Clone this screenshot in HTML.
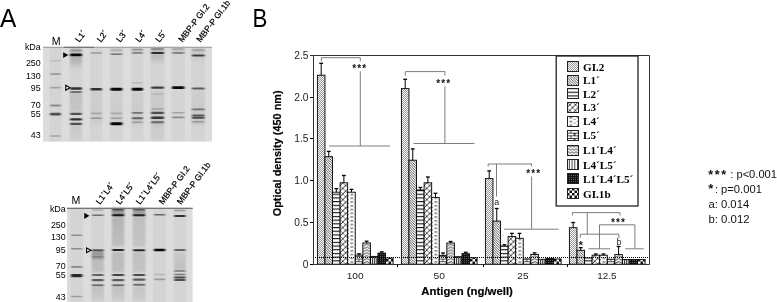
<!DOCTYPE html><html><head><meta charset="utf-8"><style>html,body{margin:0;padding:0;background:#fff;}svg{display:block;filter:blur(0.3px);} text{opacity:0.999}</style></head><body>
<svg width="777" height="302" viewBox="0 0 777 302">

<defs>
<filter id="blur" x="-20%" y="-50%" width="140%" height="200%"><feGaussianBlur stdDeviation="0.9 0.7"/></filter>
<filter id="blur2" x="-20%" y="-50%" width="140%" height="200%"><feGaussianBlur stdDeviation="0.8 1.2"/></filter>
<pattern id="pGL2" patternUnits="userSpaceOnUse" width="2" height="2">
 <rect width="2" height="2" fill="#fafafa"/>
 <rect x="0" y="0" width="1" height="1" fill="#999"/>
 <rect x="1" y="1" width="1" height="1" fill="#999"/>
</pattern>
<pattern id="pL1" patternUnits="userSpaceOnUse" width="2.5" height="2.5">
 <rect width="2.5" height="2.5" fill="#fff"/>
 <path d="M-1,-1L3.5,3.5M-1,1.5L1,3.5M1.5,-1L3.5,1" stroke="#222" stroke-width="0.75"/>
</pattern>
<pattern id="pL2" patternUnits="userSpaceOnUse" width="4" height="3.7">
 <rect width="4" height="3.7" fill="#fff"/>
 <rect y="0" width="4" height="1.1" fill="#111"/>
</pattern>
<pattern id="pL3" patternUnits="userSpaceOnUse" width="5.6" height="5.6">
 <rect width="5.6" height="5.6" fill="#fff"/>
 <path d="M0,0L5.6,5.6M-2.8,2.8L2.8,8.4M2.8,-2.8L8.4,2.8" stroke="#444" stroke-width="0.7"/>
 <path d="M0,5.6L5.6,0M-2.8,2.8L2.8,-2.8M2.8,8.4L8.4,2.8" stroke="#111" stroke-width="0.9"/>
</pattern>
<pattern id="pL4" patternUnits="userSpaceOnUse" width="7.57" height="3.75">
 <rect width="7.57" height="3.75" fill="#fff"/>
 <rect x="2.4" y="1.3" width="2.8" height="1.0" fill="#333"/>
 <rect x="0" y="3.0" width="1" height="0.75" fill="#555"/>
 <rect x="6.57" y="3.0" width="1" height="0.75" fill="#555"/>
</pattern>
<pattern id="pL5" patternUnits="userSpaceOnUse" width="7.57" height="5.4">
 <rect width="7.57" height="5.4" fill="#fff"/>
 <rect y="0" width="7.57" height="0.8" fill="#222"/>
 <rect y="2.7" width="7.57" height="0.8" fill="#222"/>
 <rect x="3.4" y="0" width="0.8" height="2.7" fill="#222"/>
 <rect x="0" y="2.7" width="0.8" height="2.7" fill="#222"/>
 <rect x="6.8" y="2.7" width="0.8" height="2.7" fill="#222"/>
</pattern>
<pattern id="pL14" patternUnits="userSpaceOnUse" width="7.57" height="2.9">
 <rect width="7.57" height="2.9" fill="#fff"/>
 <path d="M0,2.3L3.78,0.5L7.57,2.3" stroke="#222" stroke-width="0.85" fill="none"/>
</pattern>
<pattern id="pL45" patternUnits="userSpaceOnUse" width="1.9" height="4">
 <rect width="1.9" height="4" fill="#fff"/>
 <rect x="0" width="0.95" height="4" fill="#222"/>
</pattern>
<pattern id="pL45L" patternUnits="userSpaceOnUse" width="2.75" height="4">
 <rect width="2.75" height="4" fill="#fff"/>
 <rect x="1.9" width="1.3" height="4" fill="#222"/>
</pattern>
<pattern id="pL14L" patternUnits="userSpaceOnUse" width="3.6" height="3">
 <rect width="3.6" height="3" fill="#fff"/>
 <path d="M0,2.4L1.8,0.6L3.6,2.4" stroke="#222" stroke-width="0.8" fill="none"/>
</pattern>
<pattern id="pL145" patternUnits="userSpaceOnUse" width="2" height="2">
 <rect width="2" height="2" fill="#111"/>
 <rect x="0" y="0" width="1" height="1" fill="#5a5a5a"/>
</pattern>
<pattern id="pGL1b" patternUnits="userSpaceOnUse" width="5" height="5">
 <rect width="5" height="5" fill="#fff"/>
 <rect width="2.5" height="2.5" fill="#111"/>
 <rect x="2.5" y="2.5" width="2.5" height="2.5" fill="#111"/>
</pattern>
</defs>

<rect width="777" height="302" fill="#fff"/>
<text transform="translate(0.1,26.5) scale(0.96,1)" x="0" y="0" font-family="Liberation Sans" font-size="25.5">A</text>
<text transform="translate(252.6,26.5) scale(0.875,1)" x="0" y="0" font-family="Liberation Sans" font-size="25.5">B</text>
<rect x="43" y="46.8" width="169" height="94.8" fill="#dcdcdc"/>
<rect x="49.5" y="46.8" width="12" height="94.8" fill="#000" fill-opacity="0.035"/>
<rect x="69.5" y="46.8" width="13" height="94.8" fill="#000" fill-opacity="0.035"/>
<rect x="90.0" y="46.8" width="12.5" height="94.8" fill="#000" fill-opacity="0.035"/>
<rect x="110.0" y="46.8" width="12.900000000000006" height="94.8" fill="#000" fill-opacity="0.035"/>
<rect x="131.3" y="46.8" width="12.199999999999989" height="94.8" fill="#000" fill-opacity="0.035"/>
<rect x="150.5" y="46.8" width="14" height="94.8" fill="#000" fill-opacity="0.035"/>
<rect x="171.5" y="46.8" width="13.400000000000006" height="94.8" fill="#000" fill-opacity="0.035"/>
<rect x="191.3" y="46.8" width="13.899999999999977" height="94.8" fill="#000" fill-opacity="0.035"/>
<g filter="url(#blur2)">
<linearGradient id="sm1" x1="0" y1="0" x2="0" y2="1"><stop offset="0" stop-color="#000" stop-opacity="0.09"/><stop offset="1" stop-color="#000" stop-opacity="0.15"/></linearGradient>
<rect x="70.0" y="48.00" width="12.0" height="5.00" fill="url(#sm1)"/>
<linearGradient id="sm2" x1="0" y1="0" x2="0" y2="1"><stop offset="0" stop-color="#000" stop-opacity="0.21"/><stop offset="1" stop-color="#000" stop-opacity="0.03"/></linearGradient>
<rect x="70.0" y="56.00" width="12.0" height="12.00" fill="url(#sm2)"/>
<linearGradient id="sm3" x1="0" y1="0" x2="0" y2="1"><stop offset="0" stop-color="#000" stop-opacity="0.09"/><stop offset="1" stop-color="#000" stop-opacity="0.072"/></linearGradient>
<rect x="70.0" y="92.00" width="12.0" height="20.00" fill="url(#sm3)"/>
<linearGradient id="sm4" x1="0" y1="0" x2="0" y2="1"><stop offset="0" stop-color="#000" stop-opacity="0.12"/><stop offset="1" stop-color="#000" stop-opacity="0.18"/></linearGradient>
<rect x="151.0" y="48.00" width="13.0" height="4.00" fill="url(#sm4)"/>
<linearGradient id="sm5" x1="0" y1="0" x2="0" y2="1"><stop offset="0" stop-color="#000" stop-opacity="0.15"/><stop offset="1" stop-color="#000" stop-opacity="0.018"/></linearGradient>
<rect x="151.0" y="54.00" width="13.0" height="10.00" fill="url(#sm5)"/>
<linearGradient id="sm6" x1="0" y1="0" x2="0" y2="1"><stop offset="0" stop-color="#000" stop-opacity="0.06"/><stop offset="1" stop-color="#000" stop-opacity="0.09"/></linearGradient>
<rect x="172.0" y="48.00" width="12.4" height="4.00" fill="url(#sm6)"/>
<linearGradient id="sm7" x1="0" y1="0" x2="0" y2="1"><stop offset="0" stop-color="#000" stop-opacity="0.06"/><stop offset="1" stop-color="#000" stop-opacity="0.09"/></linearGradient>
<rect x="110.5" y="48.00" width="11.9" height="4.00" fill="url(#sm7)"/>
<linearGradient id="sm8" x1="0" y1="0" x2="0" y2="1"><stop offset="0" stop-color="#000" stop-opacity="0.072"/><stop offset="1" stop-color="#000" stop-opacity="0.108"/></linearGradient>
<rect x="131.8" y="48.00" width="11.2" height="4.00" fill="url(#sm8)"/>
<linearGradient id="sm9" x1="0" y1="0" x2="0" y2="1"><stop offset="0" stop-color="#000" stop-opacity="0.072"/><stop offset="1" stop-color="#000" stop-opacity="0.108"/></linearGradient>
<rect x="191.8" y="48.00" width="12.9" height="5.00" fill="url(#sm9)"/>
<linearGradient id="sm10" x1="0" y1="0" x2="0" y2="1"><stop offset="0" stop-color="#000" stop-opacity="0.06"/><stop offset="1" stop-color="#000" stop-opacity="0.0"/></linearGradient>
<rect x="191.8" y="57.00" width="12.9" height="5.00" fill="url(#sm10)"/>
<linearGradient id="sm11" x1="0" y1="0" x2="0" y2="1"><stop offset="0" stop-color="#000" stop-opacity="0.024"/><stop offset="1" stop-color="#000" stop-opacity="0.036"/></linearGradient>
<rect x="90.5" y="90.00" width="11.5" height="35.00" fill="url(#sm11)"/>
<linearGradient id="sm12" x1="0" y1="0" x2="0" y2="1"><stop offset="0" stop-color="#000" stop-opacity="0.03"/><stop offset="1" stop-color="#000" stop-opacity="0.048"/></linearGradient>
<rect x="131.8" y="92.00" width="11.2" height="33.00" fill="url(#sm12)"/>
<linearGradient id="sm13" x1="0" y1="0" x2="0" y2="1"><stop offset="0" stop-color="#000" stop-opacity="0.036"/><stop offset="1" stop-color="#000" stop-opacity="0.072"/></linearGradient>
<rect x="151.0" y="90.00" width="13.0" height="35.00" fill="url(#sm13)"/>
<linearGradient id="sm14" x1="0" y1="0" x2="0" y2="1"><stop offset="0" stop-color="#000" stop-opacity="0.03"/><stop offset="1" stop-color="#000" stop-opacity="0.06"/></linearGradient>
<rect x="191.8" y="90.00" width="12.9" height="35.00" fill="url(#sm14)"/>
<linearGradient id="sm15" x1="0" y1="0" x2="0" y2="1"><stop offset="0" stop-color="#000" stop-opacity="0.024"/><stop offset="1" stop-color="#000" stop-opacity="0.036"/></linearGradient>
<rect x="110.5" y="90.00" width="11.9" height="35.00" fill="url(#sm15)"/>
<linearGradient id="sm16" x1="0" y1="0" x2="0" y2="1"><stop offset="0" stop-color="#000" stop-opacity="0.06"/><stop offset="1" stop-color="#000" stop-opacity="0.018"/></linearGradient>
<rect x="70.0" y="125.00" width="12.0" height="15.00" fill="url(#sm16)"/>
<linearGradient id="sm17" x1="0" y1="0" x2="0" y2="1"><stop offset="0" stop-color="#000" stop-opacity="0.048"/><stop offset="1" stop-color="#000" stop-opacity="0.018"/></linearGradient>
<rect x="151.0" y="124.00" width="13.0" height="16.00" fill="url(#sm17)"/>
</g>
<g filter="url(#blur)">
<rect x="50.0" y="60.10" width="11.0" height="1.40" rx="1" fill="#000" fill-opacity="0.10"/>
<rect x="50.0" y="73.30" width="11.0" height="1.60" rx="1" fill="#000" fill-opacity="0.29"/>
<rect x="50.0" y="86.80" width="11.0" height="1.60" rx="1" fill="#000" fill-opacity="0.24"/>
<rect x="50.0" y="104.55" width="11.0" height="1.90" rx="1" fill="#000" fill-opacity="0.34"/>
<rect x="50.0" y="112.80" width="11.0" height="2.80" rx="1" fill="#000" fill-opacity="0.63"/>
<rect x="50.0" y="135.20" width="11.0" height="1.60" rx="1" fill="#000" fill-opacity="0.24"/>
<rect x="70.0" y="49.50" width="12.0" height="2.00" rx="1" fill="#000" fill-opacity="0.19"/>
<rect x="70.0" y="53.60" width="12.0" height="2.60" rx="1" fill="#000" fill-opacity="0.97"/>
<rect x="70.0" y="87.30" width="12.0" height="2.40" rx="1" fill="#000" fill-opacity="0.78"/>
<rect x="70.0" y="91.10" width="12.0" height="1.80" rx="1" fill="#000" fill-opacity="0.44"/>
<rect x="70.0" y="112.70" width="12.0" height="2.20" rx="1" fill="#000" fill-opacity="0.63"/>
<rect x="70.0" y="118.20" width="12.0" height="2.40" rx="1" fill="#000" fill-opacity="0.78"/>
<rect x="70.0" y="122.70" width="12.0" height="2.20" rx="1" fill="#000" fill-opacity="0.63"/>
<rect x="90.5" y="52.30" width="11.5" height="1.40" rx="1" fill="#000" fill-opacity="0.29"/>
<rect x="90.5" y="88.10" width="11.5" height="2.40" rx="1" fill="#000" fill-opacity="0.78"/>
<rect x="90.5" y="112.60" width="11.5" height="1.60" rx="1" fill="#000" fill-opacity="0.19"/>
<rect x="90.5" y="117.40" width="11.5" height="1.60" rx="1" fill="#000" fill-opacity="0.29"/>
<rect x="110.5" y="49.35" width="11.9" height="1.30" rx="1" fill="#000" fill-opacity="0.12"/>
<rect x="110.5" y="53.40" width="11.9" height="1.60" rx="1" fill="#000" fill-opacity="0.48"/>
<rect x="110.5" y="87.80" width="11.9" height="3.00" rx="1" fill="#000" fill-opacity="0.97"/>
<rect x="110.5" y="112.60" width="11.9" height="1.60" rx="1" fill="#000" fill-opacity="0.19"/>
<rect x="110.5" y="117.40" width="11.9" height="1.60" rx="1" fill="#000" fill-opacity="0.24"/>
<rect x="110.5" y="122.30" width="11.9" height="3.00" rx="1" fill="#000" fill-opacity="0.97"/>
<rect x="131.8" y="48.80" width="11.2" height="1.40" rx="1" fill="#000" fill-opacity="0.24"/>
<rect x="131.8" y="52.20" width="11.2" height="1.60" rx="1" fill="#000" fill-opacity="0.44"/>
<rect x="131.8" y="82.15" width="11.2" height="1.30" rx="1" fill="#000" fill-opacity="0.15"/>
<rect x="131.8" y="87.80" width="11.2" height="3.00" rx="1" fill="#000" fill-opacity="0.97"/>
<rect x="131.8" y="111.90" width="11.2" height="1.80" rx="1" fill="#000" fill-opacity="0.44"/>
<rect x="131.8" y="117.20" width="11.2" height="2.00" rx="1" fill="#000" fill-opacity="0.53"/>
<rect x="131.8" y="121.40" width="11.2" height="1.60" rx="1" fill="#000" fill-opacity="0.24"/>
<rect x="151.0" y="48.25" width="13.0" height="1.50" rx="1" fill="#000" fill-opacity="0.34"/>
<rect x="151.0" y="51.90" width="13.0" height="2.20" rx="1" fill="#000" fill-opacity="0.78"/>
<rect x="151.0" y="86.50" width="13.0" height="2.20" rx="1" fill="#000" fill-opacity="0.73"/>
<rect x="151.0" y="93.30" width="13.0" height="1.40" rx="1" fill="#000" fill-opacity="0.12"/>
<rect x="151.0" y="108.15" width="13.0" height="1.50" rx="1" fill="#000" fill-opacity="0.19"/>
<rect x="151.0" y="111.70" width="13.0" height="2.20" rx="1" fill="#000" fill-opacity="0.63"/>
<rect x="151.0" y="116.60" width="13.0" height="2.40" rx="1" fill="#000" fill-opacity="0.73"/>
<rect x="151.0" y="121.20" width="13.0" height="2.00" rx="1" fill="#000" fill-opacity="0.48"/>
<rect x="172.0" y="48.30" width="12.4" height="1.40" rx="1" fill="#000" fill-opacity="0.19"/>
<rect x="172.0" y="52.20" width="12.4" height="1.60" rx="1" fill="#000" fill-opacity="0.48"/>
<rect x="172.0" y="86.30" width="12.4" height="2.60" rx="1" fill="#000" fill-opacity="0.97"/>
<rect x="172.0" y="112.00" width="12.4" height="1.60" rx="1" fill="#000" fill-opacity="0.24"/>
<rect x="172.0" y="116.55" width="12.4" height="1.70" rx="1" fill="#000" fill-opacity="0.34"/>
<rect x="191.8" y="49.30" width="12.9" height="1.40" rx="1" fill="#000" fill-opacity="0.19"/>
<rect x="191.8" y="54.40" width="12.9" height="2.20" rx="1" fill="#000" fill-opacity="0.73"/>
<rect x="191.8" y="87.40" width="12.9" height="2.00" rx="1" fill="#000" fill-opacity="0.58"/>
<rect x="191.8" y="108.55" width="12.9" height="1.70" rx="1" fill="#000" fill-opacity="0.44"/>
<rect x="191.8" y="114.40" width="12.9" height="2.00" rx="1" fill="#000" fill-opacity="0.58"/>
<rect x="191.8" y="116.80" width="12.9" height="2.00" rx="1" fill="#000" fill-opacity="0.63"/>
<rect x="191.8" y="121.05" width="12.9" height="1.50" rx="1" fill="#000" fill-opacity="0.24"/>
</g>
<rect x="43" y="46.8" width="169" height="1.1" fill="#a0a0a0"/>
<rect x="64" y="46.8" width="30" height="1.1" fill="#707070"/>
<rect x="67" y="207.8" width="125.6" height="94.19999999999999" fill="#dcdcdc"/>
<rect x="70.5" y="207.8" width="12.400000000000006" height="94.19999999999999" fill="#000" fill-opacity="0.035"/>
<rect x="91.3" y="207.8" width="13.0" height="94.19999999999999" fill="#000" fill-opacity="0.035"/>
<rect x="111.5" y="207.8" width="13.200000000000003" height="94.19999999999999" fill="#000" fill-opacity="0.035"/>
<rect x="132.5" y="207.8" width="13.199999999999989" height="94.19999999999999" fill="#000" fill-opacity="0.035"/>
<rect x="153.3" y="207.8" width="12.5" height="94.19999999999999" fill="#000" fill-opacity="0.035"/>
<rect x="173.5" y="207.8" width="12.699999999999989" height="94.19999999999999" fill="#000" fill-opacity="0.035"/>
<g filter="url(#blur2)">
<linearGradient id="sm18" x1="0" y1="0" x2="0" y2="1"><stop offset="0" stop-color="#000" stop-opacity="0.15"/><stop offset="1" stop-color="#000" stop-opacity="0.1"/></linearGradient>
<rect x="112.0" y="217.00" width="12.2" height="29.00" fill="url(#sm18)"/>
<linearGradient id="sm19" x1="0" y1="0" x2="0" y2="1"><stop offset="0" stop-color="#000" stop-opacity="0.1"/><stop offset="1" stop-color="#000" stop-opacity="0.08"/></linearGradient>
<rect x="133.0" y="217.00" width="12.2" height="29.00" fill="url(#sm19)"/>
<linearGradient id="sm20" x1="0" y1="0" x2="0" y2="1"><stop offset="0" stop-color="#000" stop-opacity="0.3"/><stop offset="1" stop-color="#000" stop-opacity="0.22"/></linearGradient>
<rect x="91.8" y="251.00" width="12.0" height="8.00" fill="url(#sm20)"/>
<linearGradient id="sm21" x1="0" y1="0" x2="0" y2="1"><stop offset="0" stop-color="#000" stop-opacity="0.12"/><stop offset="1" stop-color="#000" stop-opacity="0.1"/></linearGradient>
<rect x="112.0" y="252.00" width="12.2" height="20.00" fill="url(#sm21)"/>
<linearGradient id="sm22" x1="0" y1="0" x2="0" y2="1"><stop offset="0" stop-color="#000" stop-opacity="0.1"/><stop offset="1" stop-color="#000" stop-opacity="0.08"/></linearGradient>
<rect x="133.0" y="252.00" width="12.2" height="20.00" fill="url(#sm22)"/>
<linearGradient id="sm23" x1="0" y1="0" x2="0" y2="1"><stop offset="0" stop-color="#000" stop-opacity="0.12"/><stop offset="1" stop-color="#000" stop-opacity="0.1"/></linearGradient>
<rect x="91.8" y="258.00" width="12.0" height="14.00" fill="url(#sm23)"/>
<linearGradient id="sm24" x1="0" y1="0" x2="0" y2="1"><stop offset="0" stop-color="#000" stop-opacity="0.05"/><stop offset="1" stop-color="#000" stop-opacity="0.1"/></linearGradient>
<rect x="174.0" y="252.00" width="11.7" height="18.00" fill="url(#sm24)"/>
<linearGradient id="sm25" x1="0" y1="0" x2="0" y2="1"><stop offset="0" stop-color="#000" stop-opacity="0.1"/><stop offset="1" stop-color="#000" stop-opacity="0.04"/></linearGradient>
<rect x="91.8" y="287.00" width="12.0" height="13.00" fill="url(#sm25)"/>
<linearGradient id="sm26" x1="0" y1="0" x2="0" y2="1"><stop offset="0" stop-color="#000" stop-opacity="0.1"/><stop offset="1" stop-color="#000" stop-opacity="0.04"/></linearGradient>
<rect x="112.0" y="287.00" width="12.2" height="13.00" fill="url(#sm26)"/>
<linearGradient id="sm27" x1="0" y1="0" x2="0" y2="1"><stop offset="0" stop-color="#000" stop-opacity="0.08"/><stop offset="1" stop-color="#000" stop-opacity="0.04"/></linearGradient>
<rect x="133.0" y="287.00" width="12.2" height="13.00" fill="url(#sm27)"/>
<linearGradient id="sm28" x1="0" y1="0" x2="0" y2="1"><stop offset="0" stop-color="#000" stop-opacity="0.3"/><stop offset="1" stop-color="#000" stop-opacity="0.3"/></linearGradient>
<rect x="112.0" y="208.00" width="12.2" height="8.00" fill="url(#sm28)"/>
<linearGradient id="sm29" x1="0" y1="0" x2="0" y2="1"><stop offset="0" stop-color="#000" stop-opacity="0.25"/><stop offset="1" stop-color="#000" stop-opacity="0.25"/></linearGradient>
<rect x="133.0" y="208.00" width="12.2" height="8.00" fill="url(#sm29)"/>
</g>
<g filter="url(#blur)">
<rect x="71.0" y="234.45" width="11.4" height="1.50" rx="1" fill="#000" fill-opacity="0.34"/>
<rect x="71.0" y="247.95" width="11.4" height="1.50" rx="1" fill="#000" fill-opacity="0.34"/>
<rect x="71.0" y="266.05" width="11.4" height="1.70" rx="1" fill="#000" fill-opacity="0.37"/>
<rect x="71.0" y="274.00" width="11.4" height="3.20" rx="1" fill="#000" fill-opacity="0.82"/>
<rect x="71.0" y="295.75" width="11.4" height="1.50" rx="1" fill="#000" fill-opacity="0.27"/>
<rect x="91.8" y="209.25" width="12.0" height="1.50" rx="1" fill="#000" fill-opacity="0.19"/>
<rect x="91.8" y="214.40" width="12.0" height="1.60" rx="1" fill="#000" fill-opacity="0.48"/>
<rect x="91.8" y="249.30" width="12.0" height="2.00" rx="1" fill="#000" fill-opacity="0.58"/>
<rect x="91.8" y="256.10" width="12.0" height="1.60" rx="1" fill="#000" fill-opacity="0.19"/>
<rect x="91.8" y="274.00" width="12.0" height="2.00" rx="1" fill="#000" fill-opacity="0.53"/>
<rect x="91.8" y="279.05" width="12.0" height="2.10" rx="1" fill="#000" fill-opacity="0.58"/>
<rect x="91.8" y="284.30" width="12.0" height="2.00" rx="1" fill="#000" fill-opacity="0.48"/>
<rect x="112.0" y="209.00" width="12.2" height="1.60" rx="1" fill="#000" fill-opacity="0.53"/>
<rect x="112.0" y="214.20" width="12.2" height="2.00" rx="1" fill="#000" fill-opacity="0.87"/>
<rect x="112.0" y="249.00" width="12.2" height="2.00" rx="1" fill="#000" fill-opacity="0.82"/>
<rect x="112.0" y="273.95" width="12.2" height="2.10" rx="1" fill="#000" fill-opacity="0.68"/>
<rect x="112.0" y="279.05" width="12.2" height="2.10" rx="1" fill="#000" fill-opacity="0.58"/>
<rect x="112.0" y="284.30" width="12.2" height="2.00" rx="1" fill="#000" fill-opacity="0.48"/>
<rect x="133.0" y="209.00" width="12.2" height="1.60" rx="1" fill="#000" fill-opacity="0.48"/>
<rect x="133.0" y="214.20" width="12.2" height="2.00" rx="1" fill="#000" fill-opacity="0.82"/>
<rect x="133.0" y="249.30" width="12.2" height="2.00" rx="1" fill="#000" fill-opacity="0.82"/>
<rect x="133.0" y="273.95" width="12.2" height="2.10" rx="1" fill="#000" fill-opacity="0.66"/>
<rect x="133.0" y="278.55" width="12.2" height="2.10" rx="1" fill="#000" fill-opacity="0.58"/>
<rect x="133.0" y="283.80" width="12.2" height="2.00" rx="1" fill="#000" fill-opacity="0.48"/>
<rect x="153.8" y="213.90" width="11.5" height="1.60" rx="1" fill="#000" fill-opacity="0.53"/>
<rect x="153.8" y="248.80" width="11.5" height="2.40" rx="1" fill="#000" fill-opacity="0.97"/>
<rect x="153.8" y="273.75" width="11.5" height="1.50" rx="1" fill="#000" fill-opacity="0.15"/>
<rect x="153.8" y="278.40" width="11.5" height="1.80" rx="1" fill="#000" fill-opacity="0.27"/>
<rect x="174.0" y="209.85" width="11.7" height="1.50" rx="1" fill="#000" fill-opacity="0.29"/>
<rect x="174.0" y="214.90" width="11.7" height="2.00" rx="1" fill="#000" fill-opacity="0.78"/>
<rect x="174.0" y="249.10" width="11.7" height="1.80" rx="1" fill="#000" fill-opacity="0.53"/>
<rect x="174.0" y="270.20" width="11.7" height="1.60" rx="1" fill="#000" fill-opacity="0.44"/>
<rect x="174.0" y="273.70" width="11.7" height="1.60" rx="1" fill="#000" fill-opacity="0.44"/>
<rect x="174.0" y="276.40" width="11.7" height="2.00" rx="1" fill="#000" fill-opacity="0.68"/>
<rect x="174.0" y="279.10" width="11.7" height="1.80" rx="1" fill="#000" fill-opacity="0.63"/>
</g>
<rect x="67" y="207.8" width="125.6" height="1.1" fill="#a0a0a0"/>
<rect x="67" y="207.8" width="125.6" height="1.1" fill="#707070"/>
<text x="40.7" y="49.6" font-family="Liberation Sans" font-size="8.9" font-weight="normal" text-anchor="end" fill="#000" >kDa</text>
<text x="40.7" y="66.1" font-family="Liberation Sans" font-size="8.9" font-weight="normal" text-anchor="end" fill="#000" >250</text>
<text x="40.7" y="78.8" font-family="Liberation Sans" font-size="8.9" font-weight="normal" text-anchor="end" fill="#000" >130</text>
<text x="40.7" y="91.0" font-family="Liberation Sans" font-size="8.9" font-weight="normal" text-anchor="end" fill="#000" >95</text>
<text x="40.7" y="107.8" font-family="Liberation Sans" font-size="8.9" font-weight="normal" text-anchor="end" fill="#000" >70</text>
<text x="40.7" y="116.6" font-family="Liberation Sans" font-size="8.9" font-weight="normal" text-anchor="end" fill="#000" >55</text>
<text x="40.7" y="138.3" font-family="Liberation Sans" font-size="8.9" font-weight="normal" text-anchor="end" fill="#000" >43</text>
<text x="65.7" y="211.6" font-family="Liberation Sans" font-size="8.9" font-weight="normal" text-anchor="end" fill="#000" >kDa</text>
<text x="65.7" y="228.1" font-family="Liberation Sans" font-size="8.9" font-weight="normal" text-anchor="end" fill="#000" >250</text>
<text x="65.7" y="240" font-family="Liberation Sans" font-size="8.9" font-weight="normal" text-anchor="end" fill="#000" >130</text>
<text x="65.7" y="252.5" font-family="Liberation Sans" font-size="8.9" font-weight="normal" text-anchor="end" fill="#000" >95</text>
<text x="65.7" y="268.6" font-family="Liberation Sans" font-size="8.9" font-weight="normal" text-anchor="end" fill="#000" >70</text>
<text x="65.7" y="278" font-family="Liberation Sans" font-size="8.9" font-weight="normal" text-anchor="end" fill="#000" >55</text>
<text x="65.7" y="299.6" font-family="Liberation Sans" font-size="8.9" font-weight="normal" text-anchor="end" fill="#000" >43</text>
<text x="56.1" y="45.3" font-family="Liberation Sans" font-size="10.6" font-weight="normal" text-anchor="middle" fill="#000" >M</text>
<text x="76" y="204.3" font-family="Liberation Sans" font-size="10.6" font-weight="normal" text-anchor="middle" fill="#000" >M</text>
<text x="79.3" y="42.8" font-family="Liberation Sans" font-size="8.5" stroke="#000" stroke-width="0.22" fill="#000" transform="rotate(-53 79.3 42.8)">L1´</text>
<text x="101" y="42.8" font-family="Liberation Sans" font-size="8.5" stroke="#000" stroke-width="0.22" fill="#000" transform="rotate(-53 101 42.8)">L2´</text>
<text x="120.3" y="42.8" font-family="Liberation Sans" font-size="8.5" stroke="#000" stroke-width="0.22" fill="#000" transform="rotate(-53 120.3 42.8)">L3´</text>
<text x="139.6" y="42.8" font-family="Liberation Sans" font-size="8.5" stroke="#000" stroke-width="0.22" fill="#000" transform="rotate(-53 139.6 42.8)">L4´</text>
<text x="159.6" y="42.8" font-family="Liberation Sans" font-size="8.5" stroke="#000" stroke-width="0.22" fill="#000" transform="rotate(-53 159.6 42.8)">L5´</text>
<text x="182.6" y="42.8" font-family="Liberation Sans" font-size="8.5" stroke="#000" stroke-width="0.22" fill="#000" transform="rotate(-53 182.6 42.8)">MBP-P GI.2</text>
<text x="200.6" y="42.8" font-family="Liberation Sans" font-size="8.5" stroke="#000" stroke-width="0.22" fill="#000" transform="rotate(-53 200.6 42.8)">MBP-P GI.1b</text>
<text x="100" y="204.9" font-family="Liberation Sans" font-size="8.5" stroke="#000" stroke-width="0.22" fill="#000" transform="rotate(-53 100 204.9)">L1´L4´</text>
<text x="120" y="204.9" font-family="Liberation Sans" font-size="8.5" stroke="#000" stroke-width="0.22" fill="#000" transform="rotate(-53 120 204.9)">L4´L5´</text>
<text x="140" y="204.9" font-family="Liberation Sans" font-size="8.5" stroke="#000" stroke-width="0.22" fill="#000" transform="rotate(-53 140 204.9)">L1´L4´L5´</text>
<text x="163" y="204.9" font-family="Liberation Sans" font-size="8.5" stroke="#000" stroke-width="0.22" fill="#000" transform="rotate(-53 163 204.9)">MBP-P GI.2</text>
<text x="181" y="204.9" font-family="Liberation Sans" font-size="8.5" stroke="#000" stroke-width="0.22" fill="#000" transform="rotate(-53 181 204.9)">MBP-P GI.1b</text>
<path d="M63.2,52.2L68.3,55.1L63.2,58Z" fill="#000"/>
<path d="M65.8,85.3L69.9,87.8L65.8,90.3Z" fill="#fff" stroke="#000" stroke-width="1.1"/>
<path d="M84.3,212.7L89.3,215.8L84.3,218.9Z" fill="#000"/>
<path d="M86.6,248.0L90.9,250.3L86.6,252.6Z" fill="#fff" stroke="#000" stroke-width="1.1"/>
<line x1="310" y1="55.5" x2="313.5" y2="55.5" stroke="#000" stroke-width="1"/>
<text x="308.4" y="58.79999999999999" font-family="Liberation Sans" font-size="10.2" font-weight="normal" text-anchor="end" fill="#222" >2.5</text>
<line x1="310" y1="97.5" x2="313.5" y2="97.5" stroke="#000" stroke-width="1"/>
<text x="308.4" y="100.6" font-family="Liberation Sans" font-size="10.2" font-weight="normal" text-anchor="end" fill="#222" >2.0</text>
<line x1="310" y1="138.5" x2="313.5" y2="138.5" stroke="#000" stroke-width="1"/>
<text x="308.4" y="142.4" font-family="Liberation Sans" font-size="10.2" font-weight="normal" text-anchor="end" fill="#222" >1.5</text>
<line x1="310" y1="180.5" x2="313.5" y2="180.5" stroke="#000" stroke-width="1"/>
<text x="308.4" y="184.2" font-family="Liberation Sans" font-size="10.2" font-weight="normal" text-anchor="end" fill="#222" >1.0</text>
<line x1="310" y1="222.5" x2="313.5" y2="222.5" stroke="#000" stroke-width="1"/>
<text x="308.4" y="225.99999999999997" font-family="Liberation Sans" font-size="10.2" font-weight="normal" text-anchor="end" fill="#222" >0.5</text>
<line x1="310" y1="264.5" x2="313.5" y2="264.5" stroke="#000" stroke-width="1"/>
<text x="308.4" y="267.8" font-family="Liberation Sans" font-size="10.2" font-weight="normal" text-anchor="end" fill="#222" >0</text>
<text x="281.5" y="153.35" font-family="Liberation Sans" font-size="11.6" font-weight="bold" stroke="#000" stroke-width="0.2" text-anchor="middle" textLength="126" lengthAdjust="spacingAndGlyphs" transform="rotate(-90 281.5 153.35)">Optical density (450 nm)</text>
<rect transform="translate(317,264)" x="0.40" y="-188.80" width="7.57" height="189.00" fill="url(#pGL2)" stroke="#000" stroke-width="0.9"/>
<line x1="321.19" y1="75.20" x2="321.19" y2="63.30" stroke="#000" stroke-width="1"/>
<line x1="319.29" y1="63.30" x2="323.08" y2="63.30" stroke="#000" stroke-width="1.3"/>
<rect transform="translate(325,264)" x="-0.03" y="-107.30" width="7.57" height="107.50" fill="url(#pL1)" stroke="#000" stroke-width="0.9"/>
<line x1="328.75" y1="156.70" x2="328.75" y2="151.40" stroke="#000" stroke-width="1"/>
<line x1="326.86" y1="151.40" x2="330.65" y2="151.40" stroke="#000" stroke-width="1.3"/>
<rect transform="translate(333,264)" x="-0.46" y="-71.80" width="7.57" height="72.00" fill="url(#pL2)" stroke="#000" stroke-width="0.9"/>
<line x1="336.32" y1="192.20" x2="336.32" y2="188.70" stroke="#000" stroke-width="1"/>
<line x1="334.43" y1="188.70" x2="338.22" y2="188.70" stroke="#000" stroke-width="1.3"/>
<rect transform="translate(340,264)" x="0.11" y="-81.20" width="7.57" height="81.40" fill="url(#pL3)" stroke="#000" stroke-width="0.9"/>
<line x1="343.89" y1="182.80" x2="343.89" y2="175.50" stroke="#000" stroke-width="1"/>
<line x1="342.00" y1="175.50" x2="345.79" y2="175.50" stroke="#000" stroke-width="1.3"/>
<rect transform="translate(348,264)" x="-0.32" y="-71.80" width="7.57" height="72.00" fill="url(#pL4)" stroke="#000" stroke-width="0.9"/>
<line x1="351.46" y1="192.20" x2="351.46" y2="189.40" stroke="#000" stroke-width="1"/>
<line x1="349.56" y1="189.40" x2="353.36" y2="189.40" stroke="#000" stroke-width="1.3"/>
<rect transform="translate(355,264)" x="0.25" y="-8.90" width="7.57" height="9.10" fill="url(#pL5)" stroke="#000" stroke-width="0.9"/>
<line x1="359.04" y1="255.10" x2="359.04" y2="253.80" stroke="#000" stroke-width="1"/>
<line x1="357.14" y1="253.80" x2="360.94" y2="253.80" stroke="#000" stroke-width="1.3"/>
<rect transform="translate(363,264)" x="-0.18" y="-21.00" width="7.57" height="21.20" fill="url(#pL14)" stroke="#000" stroke-width="0.9"/>
<line x1="366.61" y1="243.00" x2="366.61" y2="241.20" stroke="#000" stroke-width="1"/>
<line x1="364.71" y1="241.20" x2="368.50" y2="241.20" stroke="#000" stroke-width="1.3"/>
<rect transform="translate(370,264)" x="0.39" y="-7.60" width="7.57" height="7.80" fill="url(#pL45)" stroke="#000" stroke-width="0.9"/>
<rect transform="translate(378,264)" x="-0.04" y="-10.90" width="7.57" height="11.10" fill="url(#pL145)" stroke="#000" stroke-width="0.9"/>
<line x1="381.75" y1="253.10" x2="381.75" y2="251.80" stroke="#000" stroke-width="1"/>
<line x1="379.85" y1="251.80" x2="383.64" y2="251.80" stroke="#000" stroke-width="1.3"/>
<rect transform="translate(386,264)" x="-0.47" y="-6.00" width="7.57" height="6.20" fill="url(#pGL1b)" stroke="#000" stroke-width="0.9"/>
<rect transform="translate(401,264)" x="0.40" y="-175.40" width="7.57" height="175.60" fill="url(#pGL2)" stroke="#000" stroke-width="0.9"/>
<line x1="405.19" y1="88.60" x2="405.19" y2="79.30" stroke="#000" stroke-width="1"/>
<line x1="403.29" y1="79.30" x2="407.08" y2="79.30" stroke="#000" stroke-width="1.3"/>
<rect transform="translate(409,264)" x="-0.03" y="-103.80" width="7.57" height="104.00" fill="url(#pL1)" stroke="#000" stroke-width="0.9"/>
<line x1="412.75" y1="160.20" x2="412.75" y2="148.90" stroke="#000" stroke-width="1"/>
<line x1="410.86" y1="148.90" x2="414.65" y2="148.90" stroke="#000" stroke-width="1.3"/>
<rect transform="translate(417,264)" x="-0.46" y="-74.00" width="7.57" height="74.20" fill="url(#pL2)" stroke="#000" stroke-width="0.9"/>
<line x1="420.32" y1="190.00" x2="420.32" y2="187.50" stroke="#000" stroke-width="1"/>
<line x1="418.43" y1="187.50" x2="422.22" y2="187.50" stroke="#000" stroke-width="1.3"/>
<rect transform="translate(424,264)" x="0.11" y="-81.20" width="7.57" height="81.40" fill="url(#pL3)" stroke="#000" stroke-width="0.9"/>
<line x1="427.89" y1="182.80" x2="427.89" y2="177.00" stroke="#000" stroke-width="1"/>
<line x1="426.00" y1="177.00" x2="429.79" y2="177.00" stroke="#000" stroke-width="1.3"/>
<rect transform="translate(432,264)" x="-0.32" y="-66.60" width="7.57" height="66.80" fill="url(#pL4)" stroke="#000" stroke-width="0.9"/>
<line x1="435.46" y1="197.40" x2="435.46" y2="193.30" stroke="#000" stroke-width="1"/>
<line x1="433.56" y1="193.30" x2="437.36" y2="193.30" stroke="#000" stroke-width="1.3"/>
<rect transform="translate(439,264)" x="0.25" y="-8.60" width="7.57" height="8.80" fill="url(#pL5)" stroke="#000" stroke-width="0.9"/>
<line x1="443.04" y1="255.40" x2="443.04" y2="253.00" stroke="#000" stroke-width="1"/>
<line x1="441.14" y1="253.00" x2="444.94" y2="253.00" stroke="#000" stroke-width="1.3"/>
<rect transform="translate(447,264)" x="-0.18" y="-21.00" width="7.57" height="21.20" fill="url(#pL14)" stroke="#000" stroke-width="0.9"/>
<line x1="450.61" y1="243.00" x2="450.61" y2="241.50" stroke="#000" stroke-width="1"/>
<line x1="448.71" y1="241.50" x2="452.50" y2="241.50" stroke="#000" stroke-width="1.3"/>
<rect transform="translate(454,264)" x="0.39" y="-7.30" width="7.57" height="7.50" fill="url(#pL45)" stroke="#000" stroke-width="0.9"/>
<rect transform="translate(462,264)" x="-0.04" y="-10.30" width="7.57" height="10.50" fill="url(#pL145)" stroke="#000" stroke-width="0.9"/>
<line x1="465.75" y1="253.70" x2="465.75" y2="252.30" stroke="#000" stroke-width="1"/>
<line x1="463.85" y1="252.30" x2="467.64" y2="252.30" stroke="#000" stroke-width="1.3"/>
<rect transform="translate(470,264)" x="-0.47" y="-6.20" width="7.57" height="6.40" fill="url(#pGL1b)" stroke="#000" stroke-width="0.9"/>
<rect transform="translate(485,264)" x="0.40" y="-85.40" width="7.57" height="85.60" fill="url(#pGL2)" stroke="#000" stroke-width="0.9"/>
<line x1="489.19" y1="178.60" x2="489.19" y2="170.90" stroke="#000" stroke-width="1"/>
<line x1="487.29" y1="170.90" x2="491.08" y2="170.90" stroke="#000" stroke-width="1.3"/>
<rect transform="translate(493,264)" x="-0.03" y="-42.90" width="7.57" height="43.10" fill="url(#pL1)" stroke="#000" stroke-width="0.9"/>
<line x1="496.75" y1="221.10" x2="496.75" y2="208.50" stroke="#000" stroke-width="1"/>
<line x1="494.86" y1="208.50" x2="498.65" y2="208.50" stroke="#000" stroke-width="1.3"/>
<rect transform="translate(501,264)" x="-0.46" y="-18.00" width="7.57" height="18.20" fill="url(#pL2)" stroke="#000" stroke-width="0.9"/>
<line x1="504.32" y1="246.00" x2="504.32" y2="244.80" stroke="#000" stroke-width="1"/>
<line x1="502.43" y1="244.80" x2="506.22" y2="244.80" stroke="#000" stroke-width="1.3"/>
<rect transform="translate(508,264)" x="0.11" y="-27.40" width="7.57" height="27.60" fill="url(#pL3)" stroke="#000" stroke-width="0.9"/>
<line x1="511.89" y1="236.60" x2="511.89" y2="233.40" stroke="#000" stroke-width="1"/>
<line x1="510.00" y1="233.40" x2="513.79" y2="233.40" stroke="#000" stroke-width="1.3"/>
<rect transform="translate(516,264)" x="-0.32" y="-25.70" width="7.57" height="25.90" fill="url(#pL4)" stroke="#000" stroke-width="0.9"/>
<line x1="519.46" y1="238.30" x2="519.46" y2="233.40" stroke="#000" stroke-width="1"/>
<line x1="517.56" y1="233.40" x2="521.36" y2="233.40" stroke="#000" stroke-width="1.3"/>
<rect transform="translate(523,264)" x="0.25" y="-5.00" width="7.57" height="5.20" fill="url(#pL5)" stroke="#000" stroke-width="0.9"/>
<rect transform="translate(531,264)" x="-0.18" y="-9.60" width="7.57" height="9.80" fill="url(#pL14)" stroke="#000" stroke-width="0.9"/>
<line x1="534.60" y1="254.40" x2="534.60" y2="252.90" stroke="#000" stroke-width="1"/>
<line x1="532.70" y1="252.90" x2="536.50" y2="252.90" stroke="#000" stroke-width="1.3"/>
<rect transform="translate(538,264)" x="0.39" y="-4.70" width="7.57" height="4.90" fill="url(#pL45)" stroke="#000" stroke-width="0.9"/>
<rect transform="translate(546,264)" x="-0.04" y="-5.70" width="7.57" height="5.90" fill="url(#pL145)" stroke="#000" stroke-width="0.9"/>
<rect transform="translate(554,264)" x="-0.47" y="-5.00" width="7.57" height="5.20" fill="url(#pGL1b)" stroke="#000" stroke-width="0.9"/>
<rect transform="translate(569,264)" x="0.40" y="-36.30" width="7.57" height="36.50" fill="url(#pGL2)" stroke="#000" stroke-width="0.9"/>
<line x1="573.18" y1="227.70" x2="573.18" y2="222.50" stroke="#000" stroke-width="1"/>
<line x1="571.28" y1="222.50" x2="575.08" y2="222.50" stroke="#000" stroke-width="1.3"/>
<rect transform="translate(577,264)" x="-0.03" y="-13.70" width="7.57" height="13.90" fill="url(#pL1)" stroke="#000" stroke-width="0.9"/>
<line x1="580.75" y1="250.30" x2="580.75" y2="247.60" stroke="#000" stroke-width="1"/>
<line x1="578.86" y1="247.60" x2="582.65" y2="247.60" stroke="#000" stroke-width="1.3"/>
<rect transform="translate(585,264)" x="-0.46" y="-6.00" width="7.57" height="6.20" fill="url(#pL2)" stroke="#000" stroke-width="0.9"/>
<rect transform="translate(592,264)" x="0.11" y="-8.80" width="7.57" height="9.00" fill="url(#pL3)" stroke="#000" stroke-width="0.9"/>
<line x1="595.89" y1="255.20" x2="595.89" y2="254.00" stroke="#000" stroke-width="1"/>
<line x1="594.00" y1="254.00" x2="597.79" y2="254.00" stroke="#000" stroke-width="1.3"/>
<rect transform="translate(600,264)" x="-0.32" y="-8.80" width="7.57" height="9.00" fill="url(#pL4)" stroke="#000" stroke-width="0.9"/>
<line x1="603.46" y1="255.20" x2="603.46" y2="254.00" stroke="#000" stroke-width="1"/>
<line x1="601.56" y1="254.00" x2="605.36" y2="254.00" stroke="#000" stroke-width="1.3"/>
<rect transform="translate(607,264)" x="0.25" y="-4.80" width="7.57" height="5.00" fill="url(#pL5)" stroke="#000" stroke-width="0.9"/>
<rect transform="translate(615,264)" x="-0.18" y="-9.40" width="7.57" height="9.60" fill="url(#pL14)" stroke="#000" stroke-width="0.9"/>
<line x1="618.60" y1="254.60" x2="618.60" y2="246.50" stroke="#000" stroke-width="1"/>
<line x1="616.70" y1="246.50" x2="620.50" y2="246.50" stroke="#000" stroke-width="1.3"/>
<rect transform="translate(622,264)" x="0.39" y="-4.40" width="7.57" height="4.60" fill="url(#pL45)" stroke="#000" stroke-width="0.9"/>
<rect transform="translate(630,264)" x="-0.04" y="-4.40" width="7.57" height="4.60" fill="url(#pL145)" stroke="#000" stroke-width="0.9"/>
<rect transform="translate(638,264)" x="-0.47" y="-4.40" width="7.57" height="4.60" fill="url(#pGL1b)" stroke="#000" stroke-width="0.9"/>
<line x1="313" y1="257.5" x2="651" y2="257.5" stroke="#000" stroke-width="1" stroke-dasharray="1,1"/>
<path d="M310,55.5H649.5V264.5H313.5V55.5" stroke="#333" stroke-width="1" fill="none"/>
<line x1="397.5" y1="264.5" x2="397.5" y2="267" stroke="#000" stroke-width="1"/>
<line x1="483.5" y1="264.5" x2="483.5" y2="267" stroke="#000" stroke-width="1"/>
<line x1="567.5" y1="264.5" x2="567.5" y2="267" stroke="#000" stroke-width="1"/>
<text x="355.1" y="279.2" font-family="Liberation Sans" font-size="9.7" font-weight="normal" text-anchor="middle" fill="#222" textLength="16.9" lengthAdjust="spacingAndGlyphs">100</text>
<text x="439.25" y="279.2" font-family="Liberation Sans" font-size="9.7" font-weight="normal" text-anchor="middle" fill="#222" textLength="11.4" lengthAdjust="spacingAndGlyphs">50</text>
<text x="522.95" y="279.2" font-family="Liberation Sans" font-size="9.7" font-weight="normal" text-anchor="middle" fill="#222" textLength="11.2" lengthAdjust="spacingAndGlyphs">25</text>
<text x="606.85" y="279.2" font-family="Liberation Sans" font-size="9.7" font-weight="normal" text-anchor="middle" fill="#222" textLength="19.2" lengthAdjust="spacingAndGlyphs">12.5</text>
<text x="467.1" y="295.1" font-family="Liberation Sans" font-size="11.8" font-weight="bold" text-anchor="middle" fill="#000" stroke="#000" stroke-width="0.2" textLength="91.5" lengthAdjust="spacingAndGlyphs">Antigen (ng/well)</text>
<path d="M321.4,57.7L360.3,57.7M321.4,57.7L321.4,61.3M360.3,57.7L360.3,61.3M360.3,71.2L360.3,146M329.1,146L390,146" stroke="#6e6e6e" stroke-width="0.9" fill="none"/>
<path d="M405.3,71.6L444.9,71.6M405.3,71.6L405.3,75.6M444.9,71.6L444.9,75.6M444.9,86.5L444.9,143.5M413.5,143.5L474.4,143.5" stroke="#6e6e6e" stroke-width="0.9" fill="none"/>
<path d="M488.2,164L532,164M488.2,164L488.2,166.5M496.5,164L496.5,196.6M531.6,164L531.6,166.3M531.6,176.5L531.6,229.2M504,229.2L558.6,229.2" stroke="#6e6e6e" stroke-width="0.9" fill="none"/>
<path d="M572.5,212.6L620,212.6M572.5,212.6L572.5,215.5M620,212.6L620,215.5M587.3,212.6L587.3,234.2M599.5,224.8L634.9,224.8M599.5,224.8L599.5,248.8M634.9,224.8L634.9,248.8M588.7,248.8L610.2,248.8M625.2,248.8L643.8,248.8M580.3,234.2L618.9,234.2M580.3,234.2L580.3,237.8M618.9,234.2L618.9,238.4" stroke="#6e6e6e" stroke-width="0.9" fill="none"/>
<text x="359.8" y="72.10000000000001" font-family="Liberation Sans" font-size="10" font-weight="bold" text-anchor="middle" letter-spacing="1.1" fill="#111">***</text>
<text x="443.8" y="87.2" font-family="Liberation Sans" font-size="10" font-weight="bold" text-anchor="middle" letter-spacing="1.1" fill="#111">***</text>
<text x="533.7" y="177.2" font-family="Liberation Sans" font-size="10" font-weight="bold" text-anchor="middle" letter-spacing="1.1" fill="#111">***</text>
<text x="618.5" y="225.6" font-family="Liberation Sans" font-size="10" font-weight="bold" text-anchor="middle" letter-spacing="1.1" fill="#111">***</text>
<text x="580.7" y="249.3" font-family="Liberation Sans" font-size="10.5" font-weight="bold" text-anchor="middle" fill="#111" >*</text>
<text x="496.8" y="205.3" font-family="Liberation Sans" font-size="8.8" font-weight="normal" text-anchor="middle" fill="#222" >a</text>
<text x="618.9" y="245" font-family="Liberation Sans" font-size="8.8" font-weight="normal" text-anchor="middle" fill="#222" >b</text>
<rect x="556.2" y="56" width="81.8" height="150" fill="#fff" stroke="#222" stroke-width="1.3"/>
<rect transform="translate(567,61)" x="0.5" y="0.5" width="11" height="10" fill="url(#pGL2)" stroke="#222" stroke-width="1"/>
<text x="583" y="70.5" font-family="Liberation Serif" font-size="11.2" font-weight="bold" text-anchor="start" fill="#000" >GI.2</text>
<rect transform="translate(567,75)" x="0.5" y="0.5" width="11" height="10" fill="url(#pL1)" stroke="#222" stroke-width="1"/>
<text x="583" y="83.8" font-family="Liberation Serif" font-size="11.2" font-weight="bold" text-anchor="start" fill="#000" >L1´</text>
<rect transform="translate(567,88)" x="0.5" y="0.5" width="11" height="10" fill="url(#pL2)" stroke="#222" stroke-width="1"/>
<text x="583" y="97.5" font-family="Liberation Serif" font-size="11.2" font-weight="bold" text-anchor="start" fill="#000" >L2´</text>
<rect transform="translate(567,102)" x="0.5" y="0.5" width="11" height="10" fill="url(#pL3)" stroke="#222" stroke-width="1"/>
<text x="583" y="110.8" font-family="Liberation Serif" font-size="11.2" font-weight="bold" text-anchor="start" fill="#000" >L3´</text>
<rect transform="translate(567,116)" x="0.5" y="0.5" width="11" height="10" fill="url(#pL4)" stroke="#222" stroke-width="1"/>
<text x="583" y="125.4" font-family="Liberation Serif" font-size="11.2" font-weight="bold" text-anchor="start" fill="#000" >L4´</text>
<rect transform="translate(567,130)" x="0.5" y="0.5" width="11" height="10" fill="url(#pL5)" stroke="#222" stroke-width="1"/>
<text x="583" y="139.29999999999998" font-family="Liberation Serif" font-size="11.2" font-weight="bold" text-anchor="start" fill="#000" >L5´</text>
<rect transform="translate(567,145)" x="0.5" y="0.5" width="11" height="10" fill="url(#pL14L)" stroke="#222" stroke-width="1"/>
<text x="583" y="153.79999999999998" font-family="Liberation Serif" font-size="11.2" font-weight="bold" text-anchor="start" fill="#000" >L1´L4´</text>
<rect transform="translate(567,159)" x="0.5" y="0.5" width="11" height="10" fill="url(#pL45L)" stroke="#222" stroke-width="1"/>
<text x="583" y="168.5" font-family="Liberation Serif" font-size="11.2" font-weight="bold" text-anchor="start" fill="#000" >L4´L5´</text>
<rect transform="translate(567,173)" x="0.5" y="0.5" width="11" height="10" fill="url(#pL145)" stroke="#222" stroke-width="1"/>
<text x="583" y="182.6" font-family="Liberation Serif" font-size="11.2" font-weight="bold" text-anchor="start" fill="#000" >L1´L4´L5´</text>
<rect transform="translate(567,188)" x="0.5" y="0.5" width="11" height="10" fill="url(#pGL1b)" stroke="#222" stroke-width="1"/>
<text x="583" y="197.5" font-family="Liberation Serif" font-size="11.2" font-weight="bold" text-anchor="start" fill="#000" >GI.1b</text>
<text x="708.3" y="178.6" font-family="Liberation Sans" font-size="12.5" font-weight="bold" letter-spacing="1.6" fill="#111">***</text>
<text x="708.2" y="193.2" font-family="Liberation Sans" font-size="13" font-weight="bold" fill="#111">*</text>
<text x="730.3" y="178" font-family="Liberation Sans" font-size="10.4" font-weight="normal" text-anchor="start" fill="#111" textLength="46.6" lengthAdjust="spacingAndGlyphs">: p&lt;0.001</text>
<text x="714.9" y="192.6" font-family="Liberation Sans" font-size="10.4" font-weight="normal" text-anchor="start" fill="#111" textLength="47.0" lengthAdjust="spacingAndGlyphs">: p=0.001</text>
<text x="708.4" y="208" font-family="Liberation Sans" font-size="10.4" font-weight="normal" text-anchor="start" fill="#111" textLength="40.8" lengthAdjust="spacingAndGlyphs">a: 0.014</text>
<text x="708.4" y="222.6" font-family="Liberation Sans" font-size="10.4" font-weight="normal" text-anchor="start" fill="#111" textLength="41.2" lengthAdjust="spacingAndGlyphs">b: 0.012</text>
</svg></body></html>
